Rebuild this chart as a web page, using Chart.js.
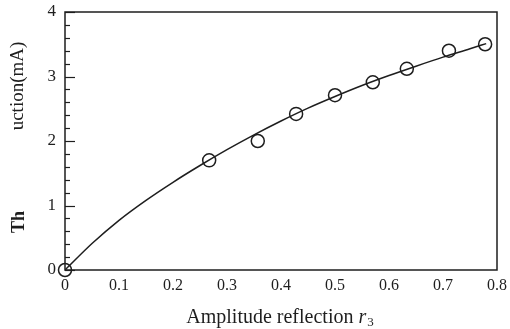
<!DOCTYPE html>
<html>
<head>
<meta charset="utf-8">
<script src="https://cdn.jsdelivr.net/npm/chart.js@4/dist/chart.umd.min.js"></script>
<style>
  html, body { margin: 0; padding: 0; background: #fff; }
  #wrap { width: 510px; height: 329px; }
</style>
</head>
<body>
<div id="wrap"><canvas id="c" width="510" height="329"></canvas></div>
<script>
// Measured points (amplitude reflection r3 vs threshold reduction, mA)
const measuredR = [0, 0.267, 0.357, 0.428, 0.5, 0.57, 0.633, 0.711, 0.778];
const measuredI = [0, 1.70, 2.00, 2.42, 2.71, 2.91, 3.12, 3.40, 3.50];
// Smooth curve
const curveR = [0, 0.05, 0.1, 0.15, 0.2, 0.25, 0.3, 0.35, 0.4, 0.45, 0.5, 0.55, 0.6, 0.65, 0.7, 0.75, 0.78];
const curveI = [0, 0.41, 0.77, 1.08, 1.36, 1.62, 1.865, 2.095, 2.31, 2.51, 2.69, 2.86, 3.015, 3.16, 3.30, 3.43, 3.51];
// Tick labels
const xTickLabels = ['0', '0.1', '0.2', '0.3', '0.4', '0.5', '0.6', '0.7', '0.8'];
const yTickLabels = ['0', '1', '2', '3', '4'];
const xTitle = 'Amplitude reflection ';
const xTitleVar = 'r';
const xTitleSub = '3';
const yTitleLow = 'Th';
const yTitleHigh = 'uction(mA)';

const ink = '#1e1e1e';
const serif = "'Liberation Serif', 'DejaVu Serif', serif";

const framePlugin = {
  id: 'frame',
  afterDatasetsDraw(chart) {
    const {ctx, chartArea: a, scales} = chart;
    ctx.save();
    ctx.strokeStyle = ink;
    ctx.lineWidth = 1.5;
    ctx.strokeRect(a.left, a.top, a.right - a.left, a.bottom - a.top);
    // inward ticks on left axis
    const y = scales.y;
    ctx.lineWidth = 1.2;
    for (let i = 0; i <= 20; i++) {
      const v = i * 0.2;
      const py = Math.round(y.getPixelForValue(v)) + 0.5;
      const len = (i % 5 === 0) ? 10 : 5;
      ctx.beginPath();
      ctx.moveTo(a.left, py);
      ctx.lineTo(a.left + len, py);
      ctx.stroke();
    }
    ctx.restore();
  },
  afterDraw(chart) {
    const {ctx} = chart;
    ctx.save();
    ctx.fillStyle = ink;
    // x title
    ctx.textBaseline = 'alphabetic';
    ctx.font = "20px " + serif;
    const w1 = ctx.measureText(xTitle).width;
    ctx.font = "italic 20px " + serif;
    const w2 = ctx.measureText(xTitleVar).width;
    ctx.font = "13px " + serif;
    const w3 = ctx.measureText(xTitleSub).width;
    let x0 = 280 - (w1 + w2 + w3 + 1) / 2;
    const base = 323;
    ctx.font = "20px " + serif;
    ctx.fillText(xTitle, x0, base);
    ctx.font = "italic 20px " + serif;
    ctx.fillText(xTitleVar, x0 + w1, base);
    ctx.font = "13px " + serif;
    ctx.fillText(xTitleSub, x0 + w1 + w2 + 1, base + 3);
    // y title fragments (rotated)
    ctx.font = "19px " + serif;
    ctx.textAlign = 'center';
    ctx.textBaseline = 'middle';
    ctx.save();
    ctx.translate(18, 86);
    ctx.rotate(-Math.PI / 2);
    ctx.fillText(yTitleHigh, 0, 0);
    ctx.restore();
    ctx.save();
    ctx.translate(19, 222);
    ctx.rotate(-Math.PI / 2);
    ctx.font = "bold 18px " + serif;
    ctx.fillText(yTitleLow, 0, 0);
    ctx.restore();
    ctx.restore();
  }
};

new Chart(document.getElementById('c'), {
  type: 'scatter',
  data: {
    datasets: [
      {
        label: 'curve',
        data: curveR.map((r, i) => ({x: r, y: curveI[i]})),
        showLine: true,
        borderColor: ink,
        borderWidth: 1.5,
        pointRadius: 0,
        cubicInterpolationMode: 'monotone',
        fill: false
      },
      {
        label: 'measured',
        data: measuredR.map((r, i) => ({x: r, y: measuredI[i]})),
        showLine: false,
        clip: false,
        pointStyle: 'circle',
        pointRadius: 6.5,
        pointBorderWidth: 1.5,
        pointBorderColor: ink,
        pointBackgroundColor: 'rgba(0,0,0,0)'
      }
    ]
  },
  options: {
    responsive: false,
    animation: false,
    devicePixelRatio: 1,
    layout: { padding: { left: 0, right: 13, top: 12, bottom: 0 } },
    plugins: { legend: { display: false }, tooltip: { enabled: false } },
    scales: {
      x: {
        type: 'linear',
        min: 0, max: 0.8,
        afterFit(s) { s.height = 59; s.paddingLeft = 0; s.paddingRight = 0; },
        border: { display: false },
        grid: { display: false, drawTicks: false },
        ticks: {
          stepSize: 0.1,
          padding: 6,
          color: ink,
          font: { family: serif, size: 16 },
          maxRotation: 0,
          autoSkip: false,
          callback(v, i) { return xTickLabels[i]; }
        }
      },
      y: {
        type: 'linear',
        min: 0, max: 4,
        afterFit(s) { s.width = 65; s.paddingTop = 0; s.paddingBottom = 0; },
        border: { display: false },
        grid: { display: false, drawTicks: false },
        ticks: {
          stepSize: 1,
          padding: 9,
          color: ink,
          font: { family: serif, size: 17 },
          autoSkip: false,
          callback(v, i) { return yTickLabels[i]; }
        }
      }
    }
  },
  plugins: [framePlugin]
});
</script>
</body>
</html>
